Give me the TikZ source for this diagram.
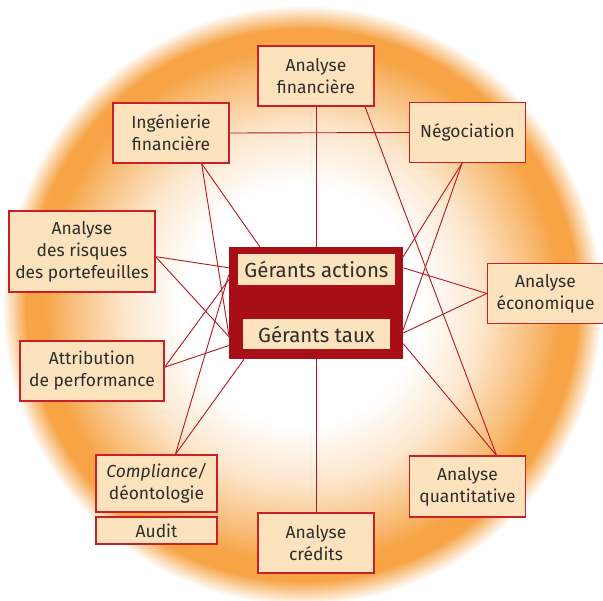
\documentclass[tikz,border=0pt]{standalone}
\usepackage{fontspec}
\setmainfont{Fira Sans}
\usetikzlibrary{positioning,backgrounds}

\definecolor{halo}{RGB}{246,164,70}
\definecolor{boxfill}{RGB}{253,227,189}
\definecolor{boxline}{RGB}{200,32,42}
\definecolor{linkred}{RGB}{178,24,36}
\definecolor{corered}{RGB}{168,14,22}
\definecolor{ink}{RGB}{45,45,45}

% orange ring fading to white inside and outside
\pgfdeclareradialshading{haloshade}{\pgfpoint{0bp}{0bp}}{color(0bp)=(white); color(10bp)=(white); color(15bp)=(halo!28); color(19.5bp)=(halo!75); color(21.5bp)=(halo); color(23bp)=(halo); color(25bp)=(white); color(50bp)=(white)}

\begin{document}
\begin{tikzpicture}[x=1bp,y=-1bp,
  job/.style={draw=boxline,line width=1.2bp,fill=boxfill,text=ink,align=center,
    font=\fontsize{17.5}{22}\selectfont,inner sep=0pt,minimum width=116bp,minimum height=60bp},
  desk/.style={fill=boxfill,text=ink,font=\fontsize{20.5}{22}\selectfont,inner sep=0pt},
  link/.style={draw=linkred,line width=0.9bp}]
\useasboundingbox (0,0) rectangle (603,601);
%
% the trades round the desks
\node[job] (fin) at (316,76) {Analyse\\financière};
\node[job] (ing) at (171,133) {Ingénierie\\financière};
\node[job] (nego) at (467.5,132.5) {Négociation};
\node[job,minimum width=146bp,minimum height=81bp] (risk) at (82,251.5) {Analyse\\des risques\\des portefeuilles};
\node[job] (eco) at (545.5,293.5) {Analyse\\économique};
\node[job,minimum width=144bp] (attr) at (92,371) {Attribution\\de performance};
\node[job,minimum width=121bp,minimum height=57bp] (compl) at (156.5,483.5) {\textit{Compliance/}\\déontologie};
\node[job,minimum width=121bp,minimum height=27bp] (audit) at (156.5,530.5) {Audit};
\node[job,minimum height=61bp] (quant) at (467.5,486.5) {Analyse\\quantitative};
\node[job] (cred) at (316,543) {Analyse\\crédits};
%
% the two desks
\node[fill=corered,minimum width=174bp,minimum height=112bp,inner sep=0pt] (core) at (316,303) {};
\node[desk,minimum width=157bp,minimum height=31bp] (ga) at (316.5,269.5) {Gérants actions};
\node[desk,minimum width=147bp,minimum height=30bp] (gt) at (316.5,334) {Gérants taux};
%
\begin{scope}[on background layer]
\shade[shading=haloshade] (302,305) circle (300);
%
\draw[link] (fin.south) -- (core.north);
\draw[link] (core.south) -- (cred.north);
\draw[link] (ing.east) -- (nego.west);
\draw[link] (fin.-32) -- (quant.47);
\draw[link] (core.335) -- (quant.47);
\draw[link] (ing.-45) -- (core.135);
\draw[link] (ing.-45) -- (core.200);
\draw[link] (risk.-4) -- (core.158);
\draw[link] (risk.-4) -- (core.201);
\draw[link] (attr.3) -- (core.165);
\draw[link] (attr.3) -- (core.206);
\draw[link] (compl.57) -- (core.162);
\draw[link] (compl.57) -- (core.218);
\draw[link] (nego.-100) -- (core.28);
\draw[link] (nego.-100) -- (core.343);
\draw[link] (eco.west) -- (core.22.5);
\draw[link] (eco.west) -- (core.341);
\end{scope}
\end{tikzpicture}
\end{document}
